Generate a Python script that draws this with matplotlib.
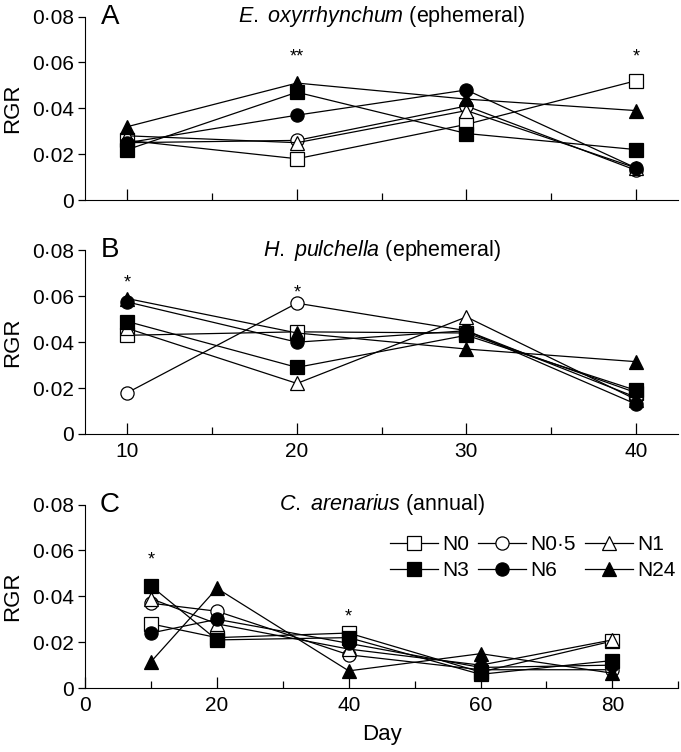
import matplotlib
matplotlib.use("Agg")
import matplotlib.pyplot as plt
from matplotlib.ticker import MultipleLocator, FuncFormatter

plt.rcParams['font.family'] = ['Liberation Sans', 'DejaVu Sans']
plt.rcParams['mathtext.fontset'] = 'custom'
plt.rcParams['mathtext.rm'] = 'Liberation Sans'
plt.rcParams['mathtext.it'] = 'Liberation Sans:italic'

# data
treatments = ['N0', 'N0·5', 'N1', 'N3', 'N6', 'N24']
days_ab = [10, 20, 30, 40]
days_c = [10, 20, 40, 60, 80]

rgr_a = {
    'N0': [0.026, 0.018, 0.033, 0.052],
    'N0·5': [0.025, 0.026, 0.041, 0.013],
    'N1': [0.028, 0.025, 0.039, 0.014],
    'N3': [0.022, 0.047, 0.029, 0.022],
    'N6': [0.025, 0.037, 0.048, 0.014],
    'N24': [0.032, 0.051, 0.044, 0.039],
}
rgr_b = {
    'N0': [0.043, 0.0445, 0.044, 0.018],
    'N0·5': [0.018, 0.057, 0.045, 0.016],
    'N1': [0.046, 0.022, 0.051, 0.015],
    'N3': [0.049, 0.029, 0.043, 0.019],
    'N6': [0.0575, 0.040, 0.045, 0.013],
    'N24': [0.059, 0.044, 0.037, 0.0315],
}
rgr_c = {
    'N0': [0.028, 0.022, 0.024, 0.007, 0.0205],
    'N0·5': [0.037, 0.0335, 0.0145, 0.008, 0.008],
    'N1': [0.039, 0.028, 0.017, 0.010, 0.021],
    'N3': [0.0445, 0.021, 0.022, 0.006, 0.012],
    'N6': [0.024, 0.030, 0.0195, 0.009, 0.010],
    'N24': [0.0115, 0.0435, 0.0075, 0.015, 0.0065],
}

titles = [r'$\mathit{E.}$ $\mathit{oxyrrhynchum}$ (ephemeral)',
          r'$\mathit{H.}$ $\mathit{pulchella}$ (ephemeral)',
          r'$\mathit{C.}$ $\mathit{arenarius}$ (annual)']
panel_letters = ['A', 'B', 'C']
stars_a = [(20, 0.0625, '**'), (40, 0.0625, '*')]
stars_b = [(10, 0.066, '*'), (20, 0.0615, '*')]
stars_c = [(10, 0.056, '*'), (40, 0.031, '*')]

styles = {
    'N0': ('s', 'white'),
    'N0·5': ('o', 'white'),
    'N1': ('^', 'white'),
    'N3': ('s', 'black'),
    'N6': ('o', 'black'),
    'N24': ('^', 'black'),
}

fig = plt.figure(figsize=(6.81, 7.52), dpi=100)
left, width, height = 0.125, 0.871, 0.244
bottoms = [0.734, 0.423, 0.085]
axes = [fig.add_axes([left, b, width, height]) for b in bottoms]

dot_fmt = FuncFormatter(lambda v, p: '0' if abs(v) < 1e-9 else ('%.2f' % v).replace('.', '·'))

panels = [(days_ab, rgr_a, stars_a), (days_ab, rgr_b, stars_b), (days_c, rgr_c, stars_c)]
for i, (ax, (days, data, stars)) in enumerate(zip(axes, panels)):
    for t in treatments:
        m, fc = styles[t]
        ms = 10.5 if m == '^' else 9.5
        ax.plot(days, data[t], color='black', lw=0.9, marker=m, ms=ms,
                mfc=fc, mec='black', mew=0.9, label=t)
    for x, y, s in stars:
        ax.text(x, y, s, ha='center', va='center', fontsize=13)
    ax.set_ylim(0, 0.08)
    ax.yaxis.set_major_locator(MultipleLocator(0.02))
    ax.yaxis.set_major_formatter(dot_fmt)
    ax.set_ylabel('RGR', fontsize=16)
    ax.yaxis.set_label_coords(-0.104, 0.5)
    ax.spines['top'].set_visible(False)
    ax.spines['right'].set_visible(False)
    ax.tick_params(axis='y', direction='out', length=5, width=0.9, labelsize=15, pad=3)
    ax.tick_params(axis='x', which='major', direction='in', length=8, width=0.9, labelsize=15, pad=6)
    ax.tick_params(axis='x', which='minor', direction='in', length=5, width=0.9)
    ax.text(0.042, 1.0, panel_letters[i], transform=ax.transAxes, fontsize=20,
            ha='center', va='center')
    ax.text(0.5, 1.0, titles[i], transform=ax.transAxes, fontsize=15.5,
            ha='center', va='center')

for ax in axes[:2]:
    ax.set_xlim(7.5, 42.5)
    ax.xaxis.set_major_locator(MultipleLocator(10))
    ax.xaxis.set_minor_locator(MultipleLocator(5))
axes[0].tick_params(axis='x', labelbottom=False)

axes[2].set_xlim(0, 90)
axes[2].xaxis.set_major_locator(MultipleLocator(20))
axes[2].xaxis.set_minor_locator(MultipleLocator(10))
axes[2].set_xlabel('Day', fontsize=16, labelpad=6)

# legend filled row by row
handles, labels = axes[2].get_legend_handles_labels()
order = [0, 3, 1, 4, 2, 5]
axes[2].legend([handles[k] for k in order], [labels[k] for k in order],
               loc='upper right', bbox_to_anchor=(1.01, 0.88), ncol=3, frameon=False,
               fontsize=15, handlelength=2.3, handletextpad=0.2, columnspacing=0.45,
               labelspacing=0.35, borderaxespad=0)

fig.savefig('out.png', dpi=100)
